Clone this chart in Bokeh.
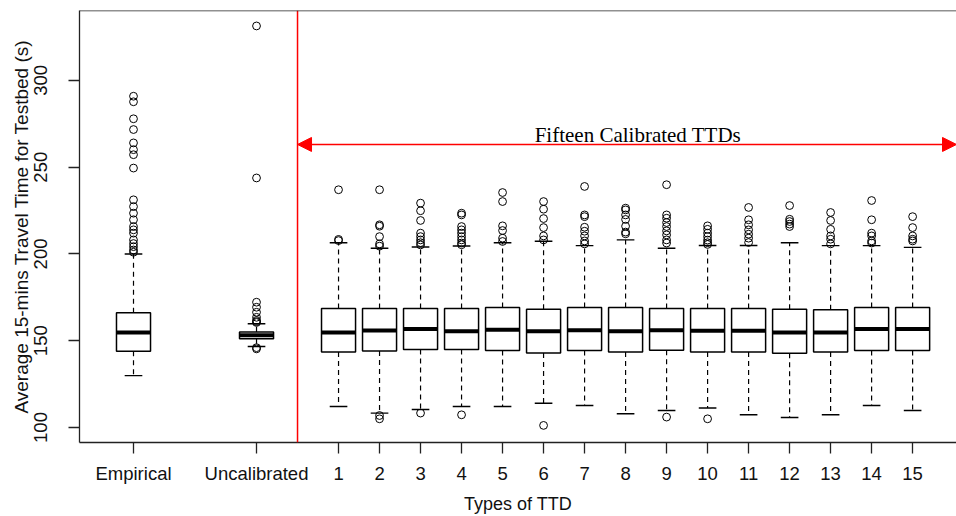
from bokeh.plotting import figure
from bokeh.models import Span, Arrow, NormalHead, Label, FixedTicker, ColumnDataSource, Range1d
from bokeh.embed import file_html
from bokeh.resources import INLINE

# ---- data ----
categories = ["Empirical", "Uncalibrated"] + [str(i) for i in range(1, 16)]
cat_pos = [1, 4] + list(range(6, 21))

q1 = [143.9, 151.2, 143.5, 144.1, 144.9, 144.9, 144.3, 142.9, 144.3, 143.5, 144.5, 143.5, 143.5, 142.8, 143.5, 144.3, 144.3]
med = [154.7, 153.1, 154.7, 155.9, 156.8, 155.5, 156.3, 155.5, 156.1, 155.5, 156.1, 155.7, 155.7, 154.7, 154.7, 156.8, 156.8]
q3 = [166.1, 155.0, 168.6, 168.6, 168.6, 168.6, 169.2, 168.2, 169.2, 169.2, 168.6, 168.6, 168.6, 168.2, 167.8, 169.2, 169.2]
w_lo = [129.9, 146.7, 112.1, 108.3, 110.4, 112.1, 112.1, 114.0, 112.7, 107.9, 109.8, 111.2, 107.3, 105.8, 107.3, 112.7, 109.8]
w_hi = [200.0, 159.8, 206.5, 203.3, 204.0, 204.6, 206.5, 207.3, 204.8, 208.1, 203.3, 204.9, 204.9, 206.5, 204.8, 204.8, 203.8]

outliers = [
    [290.9, 287.7, 277.9, 271.7, 264.0, 260.1, 257.2, 249.5, 231.2, 227.3, 223.5, 219.7, 215.8, 213.9, 212.0, 208.1, 206.0, 204.2, 202.3, 201.0],
    [331.4, 243.8, 172.2, 169.3, 166.4, 163.5, 161.7, 161.0, 160.5, 146.0, 145.3],
    [237.0, 208.4, 207.7],
    [237.0, 216.8, 216.0, 210.0, 205.8, 204.5, 106.9, 105.0],
    [229.3, 224.9, 219.3, 212.0, 210.0, 208.1, 206.5, 205.2, 108.3],
    [223.5, 222.5, 215.8, 213.9, 212.0, 210.0, 208.1, 206.3, 205.3, 107.3],
    [235.4, 230.2, 216.2, 213.5, 209.1, 207.2],
    [230.2, 225.8, 220.4, 215.2, 210.4, 208.1, 101.2],
    [238.9, 222.5, 221.5, 215.4, 213.1, 210.4, 207.5, 205.8],
    [226.4, 225.4, 222.5, 219.9, 216.0, 212.6, 211.6],
    [239.9, 222.5, 220.6, 218.1, 215.8, 213.3, 211.0, 208.1, 206.3, 106.0],
    [216.2, 214.2, 212.0, 210.0, 208.0, 206.5, 205.5, 105.0],
    [226.8, 219.7, 216.8, 213.9, 211.4, 209.1, 206.6],
    [227.9, 220.0, 218.7, 217.2, 215.8],
    [223.9, 219.3, 214.2, 210.4, 208.5, 205.8],
    [230.8, 219.7, 212.0, 210.4, 207.5, 206.3],
    [221.5, 215.2, 210.4, 208.5, 207.5],
]

y_ticks = [100, 150, 200, 250, 300]
group_divider = 5
annot_text = "Fifteen Calibrated TTDs"
annot_y = 263.1

# ---- figure ----
p = figure(width=956, height=516, output_backend="svg", toolbar_location=None, title=None,
           x_range=Range1d(-0.317, 21.07), y_range=Range1d(91.35, 340.3),
           min_border_left=79, min_border_right=0, min_border_top=10, min_border_bottom=74)
p.outline_line_color = None
p.xgrid.visible = False
p.ygrid.visible = False
p.background_fill_color = "white"

bw = 0.83
cw = 0.43
src = ColumnDataSource(dict(x=cat_pos, q1=q1, med=med, q3=q3, lo=w_lo, hi=w_hi,
                            l=[x - bw / 2 for x in cat_pos], r=[x + bw / 2 for x in cat_pos],
                            cl=[x - cw / 2 for x in cat_pos], cr=[x + cw / 2 for x in cat_pos]))

# whiskers
p.segment(x0="x", y0="q3", x1="x", y1="hi", source=src, line_color="black", line_width=1.2, line_dash="5 4")
p.segment(x0="x", y0="q1", x1="x", y1="lo", source=src, line_color="black", line_width=1.2, line_dash="5 4")
# caps
p.segment(x0="cl", y0="hi", x1="cr", y1="hi", source=src, line_color="black", line_width=1.4)
p.segment(x0="cl", y0="lo", x1="cr", y1="lo", source=src, line_color="black", line_width=1.4)
# boxes
p.quad(left="l", right="r", bottom="q1", top="q3", source=src, fill_color="white", line_color="black", line_width=1.5)
# medians
p.segment(x0="l", y0="med", x1="r", y1="med", source=src, line_color="black", line_width=4)

# outliers
ox, oy = [], []
for x, vals in zip(cat_pos, outliers):
    for v in vals:
        ox.append(x)
        oy.append(v)
p.scatter(ox, oy, marker="circle", size=7.8, fill_color=None, line_color="black", line_width=1)

# separators / annotation
p.add_layout(Span(location=group_divider, dimension="height", line_color="red", line_width=1.5))
p.add_layout(Span(location=340.3, dimension="width", line_color="#222222", line_width=1.5))
p.add_layout(Arrow(x_start=group_divider, y_start=annot_y, x_end=21.07, y_end=annot_y,
                   line_color="red", line_width=1.5,
                   start=NormalHead(size=14, fill_color="red", line_color="red"),
                   end=NormalHead(size=14, fill_color="red", line_color="red")))
p.add_layout(Label(x=13.3, y=268.4, text=annot_text, text_font="Liberation Serif",
                   text_font_size="21px", text_align="center", text_baseline="alphabetic",
                   text_color="black"))

# axes
for ax in (p.xaxis[0], p.yaxis[0]):
    ax.axis_line_color = "#222222"
    ax.axis_line_width = 1.3
    ax.major_tick_line_color = "#222222"
    ax.major_tick_line_width = 1.3
    ax.major_tick_out = 11
    ax.major_tick_in = 0
    ax.minor_tick_line_color = None
    ax.major_label_text_font = "Liberation Sans"
    ax.major_label_text_font_size = "18.5px"
    ax.major_label_text_color = "#111111"
    ax.axis_label_text_font = "Liberation Sans"
    ax.axis_label_text_font_style = "normal"
    ax.axis_label_text_color = "#111111"

p.xaxis.ticker = FixedTicker(ticks=cat_pos)
p.xaxis.major_label_overrides = {x: c for x, c in zip(cat_pos, categories)}
p.xaxis.major_label_standoff = 9
p.xaxis.axis_label = "Types of TTD"
p.xaxis.axis_label_text_font_size = "18px"
p.xaxis.axis_label_standoff = 7

p.yaxis.ticker = FixedTicker(ticks=y_ticks)
p.yaxis.major_label_orientation = "parallel"
p.yaxis.major_label_standoff = 21
p.yaxis.axis_label = "Average 15-mins Travel Time for Testbed (s)"
p.yaxis.axis_label_text_font_size = "19px"
p.yaxis.axis_label_standoff = 0

open("out.html", "w").write(file_html(p, INLINE))
